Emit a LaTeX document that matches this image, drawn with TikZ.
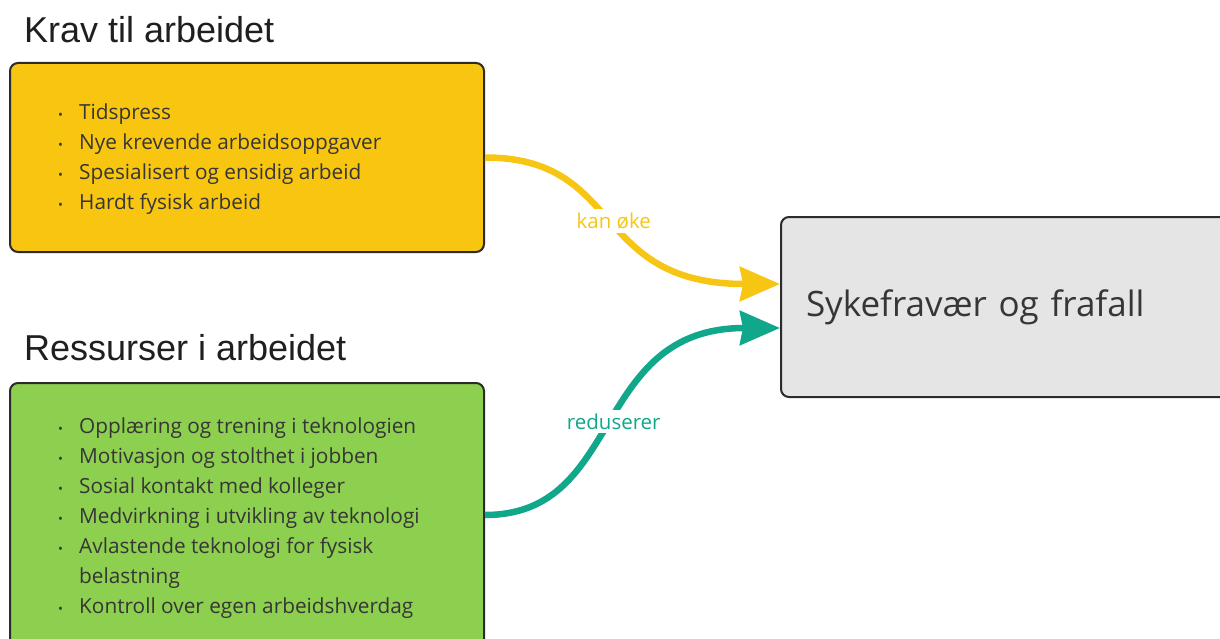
\documentclass[tikz,border=0pt]{standalone}
\usepackage{fontspec}
\setmainfont{Open Sans}
\newfontfamily\titlefont{Liberation Sans}
\usetikzlibrary{arrows.meta}
\definecolor{kravfill}{HTML}{F8C611}
\definecolor{ressfill}{HTML}{8DCF4E}
\definecolor{sickfill}{HTML}{E5E5E5}
\definecolor{boxline}{HTML}{2B2B2B}
\definecolor{txt}{HTML}{363636}
\definecolor{yarr}{HTML}{F7C615}
\definecolor{tarr}{HTML}{10A78A}
\newcommand{\bul}{{\fontsize{13}{13}\selectfont •}}
\tikzset{
  card/.style={draw=boxline, line width=2pt, rounded corners=8pt},
  heading/.style={anchor=base west, inner sep=0pt, text=black!88, font=\titlefont\fontsize{36}{40}\selectfont},
  bullets/.style={anchor=north west, inner sep=0pt, text=txt, font=\fontsize{20.8}{30}\selectfont},
  conn/.style={line width=6.5pt, -{Stealth[length=40pt, width=34pt, inset=3pt]}},
  lbl/.style={fill=white, inner xsep=2pt, inner ysep=4pt, font=\fontsize{20.5}{24}\selectfont},
}
\begin{document}
\begin{tikzpicture}[x=1pt, y=-1pt]
\useasboundingbox (0,0) rectangle (1220,639);
\clip (0,0) rectangle (1220,639);

\node[heading] (t1) at (24,43) {Krav til arbeidet};
\node[heading] (t2) at (24,360) {Ressurser i arbeidet};

\node[card, fill=kravfill, minimum width=474pt, minimum height=189pt] (krav) at (247,157.5) {};
\node[card, fill=ressfill, minimum width=474pt, minimum height=264pt] (ress) at (247,515) {};
\node[card, fill=sickfill, minimum width=460pt, minimum height=180pt, text width=410pt, align=left, inner xsep=23pt, anchor=west, text=txt, font=\fontsize{35}{40}\selectfont] (sick) at (780,307) {Sykefravær og frafall};

\node[bullets] (kravlist) at (58,98) {%
\begin{tabular}{@{}p{21pt}@{}l@{}}
\bul & Tidspress\\
\bul & Nye krevende arbeidsoppgaver\\
\bul & Spesialisert og ensidig arbeid\\
\bul & Hardt fysisk arbeid
\end{tabular}};

\node[bullets] (resslist) at (58,412) {%
\begin{tabular}{@{}p{21pt}@{}l@{}}
\bul & Opplæring og trening i teknologien\\
\bul & Motivasjon og stolthet i jobben\\
\bul & Sosial kontakt med kolleger\\
\bul & Medvirkning i utvikling av teknologi\\
\bul & Avlastende teknologi for fysisk\\
 & belastning\\
\bul & Kontroll over egen arbeidshverdag
\end{tabular}};

\coordinate (inY) at ([yshift=23pt]sick.west);
\coordinate (inT) at ([yshift=-21pt]sick.west);

\draw[conn, draw=yarr] (krav.east) .. controls +(140,0) and +(-190,0) .. (inY)
  node[lbl, text=yarr, pos=0.5] (l1) {kan øke};
\draw[conn, draw=tarr] (ress.east) .. controls +(140,0) and +(-190,0) .. (inT)
  node[lbl, text=tarr, pos=0.5] (l2) {reduserer};
\end{tikzpicture}
\end{document}
